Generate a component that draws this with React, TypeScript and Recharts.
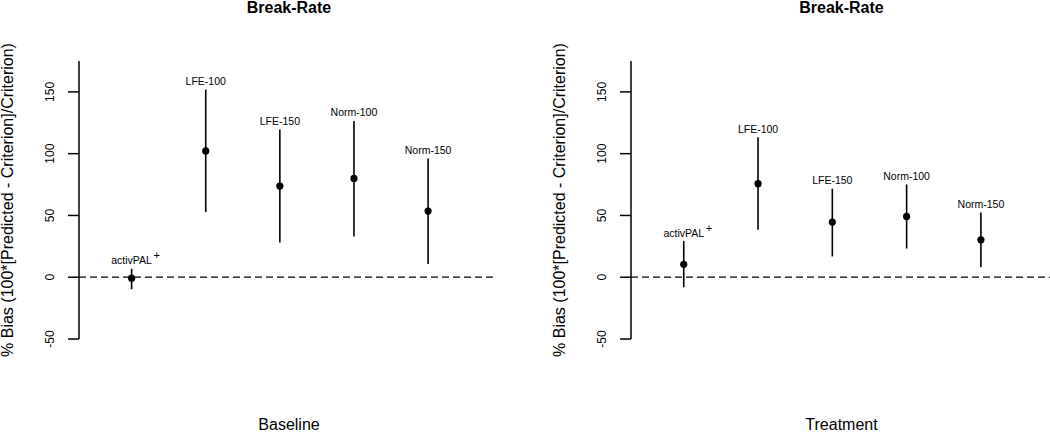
import React from 'react';
import { ComposedChart, Scatter, ErrorBar, XAxis, YAxis, ReferenceLine } from 'recharts';

const methods = ['activPAL', 'LFE-100', 'LFE-150', 'Norm-100', 'Norm-150'];
const positions = [1, 2, 3, 4, 5];

const baselineBias = [-0.8, 102.2, 73.8, 80.0, 53.5];
const baselineLower = [-9.7, 52.7, 28.1, 33.0, 10.8];
const baselineUpper = [6.8, 151.9, 119.5, 126.5, 96.0];

const treatmentBias = [10.5, 75.7, 44.6, 49.2, 30.3];
const treatmentLower = [-8.1, 38.4, 16.8, 23.2, 8.1];
const treatmentUpper = [29.2, 113.2, 71.6, 75.1, 52.4];

const yTicks = [-50, 0, 50, 100, 150];

const FONT = '"Liberation Sans", Arial, Helvetica, sans-serif';
const Y_LABEL = '% Bias (100*[Predicted - Criterion]/Criterion)';

const buildRows = (bias: number[], lower: number[], upper: number[]) =>
  methods.map((name, i) => ({
    name,
    x: positions[i],
    y: bias[i],
    err: [bias[i] - lower[i], upper[i] - bias[i]],
  }));

const buildLabelRows = (upper: number[]) =>
  methods.map((name, i) => ({ name, x: positions[i], y: upper[i] }));

const Dot = (p: any) => <circle cx={p.cx} cy={p.cy} r={3.6} fill="#000" />;

// name written just above the top of each interval
const MethodLabel = (p: any) => {
  const base = p.cy - 4.5;
  const name = p.payload.name;
  return (
    <g>
      <text x={p.cx} y={base} textAnchor="middle" fontSize={10.5} fontFamily={FONT} fill="#000">
        {name}
      </text>
      {name === 'activPAL' && (
        <text x={p.cx + 22} y={base - 5} fontSize={11} fontFamily={FONT} fill="#000">
          +
        </text>
      )}
    </g>
  );
};

const YTick = ({ x, y, payload }: any) => (
  <text
    x={x}
    y={y}
    transform={`rotate(-90, ${x}, ${y})`}
    textAnchor="middle"
    fontSize={12}
    fontFamily={FONT}
    fill="#000"
  >
    {payload.value}
  </text>
);

const renderYLabel = (p: any) => {
  const vb = p.viewBox;
  const x = vb.x + vb.width - 66;
  const y = vb.y + vb.height / 2;
  return (
    <text
      x={x}
      y={y}
      transform={`rotate(-90, ${x}, ${y})`}
      textAnchor="middle"
      fontSize={16}
      fontFamily={FONT}
      fill="#000"
    >
      {Y_LABEL}
    </text>
  );
};

interface PanelProps {
  rows: any[];
  labelRows: any[];
  xTitle: string;
  axisWidth: number;
  rightMargin: number;
}

const Panel: React.FC<PanelProps> = ({ rows, labelRows, xTitle, axisWidth, rightMargin }) => {
  const centre = axisWidth + (525 - axisWidth - rightMargin) / 2 + 1;
  return (
    <div style={{ position: 'relative', width: 525, height: 432 }}>
      <ComposedChart width={525} height={432} margin={{ top: 61, right: rightMargin, bottom: 93, left: 0 }}>
        <XAxis type="number" dataKey="x" domain={[0.29, 5.93]} hide allowDataOverflow />
        <YAxis
          type="number"
          dataKey="y"
          domain={[-50, 175]}
          ticks={yTicks}
          interval={0}
          allowDataOverflow
          width={axisWidth}
          tickSize={11}
          tickMargin={14}
          tick={<YTick />}
          axisLine={{ stroke: '#000', strokeWidth: 1.5 }}
          tickLine={{ stroke: '#000', strokeWidth: 1.5 }}
          label={{ content: renderYLabel }}
        />
        <ReferenceLine y={0} stroke="#000" strokeWidth={1.3} strokeDasharray="7 4" />
        <Scatter data={rows} dataKey="y" shape={Dot} isAnimationActive={false}>
          <ErrorBar dataKey="err" direction="y" width={0} stroke="#000" strokeWidth={1.6} isAnimationActive={false} />
        </Scatter>
        <Scatter data={labelRows} dataKey="y" shape={MethodLabel} isAnimationActive={false} />
      </ComposedChart>
      <div
        style={{
          position: 'absolute',
          top: 0,
          left: centre,
          transform: 'translateX(-50%)',
          fontFamily: FONT,
          fontWeight: 'bold',
          fontSize: 16,
          lineHeight: '16px',
          whiteSpace: 'nowrap',
        }}
      >
        Break-Rate
      </div>
      <div
        style={{
          position: 'absolute',
          top: 417,
          left: centre,
          transform: 'translateX(-50%)',
          fontFamily: FONT,
          fontSize: 16,
          lineHeight: '16px',
          whiteSpace: 'nowrap',
        }}
      >
        {xTitle}
      </div>
    </div>
  );
};

export default function App() {
  return (
    <div style={{ position: 'absolute', left: 0, top: 0, width: 1050, height: 432, display: 'flex', background: '#fff' }}>
      <Panel
        rows={buildRows(baselineBias, baselineLower, baselineUpper)}
        labelRows={buildLabelRows(baselineUpper)}
        xTitle="Baseline"
        axisWidth={79}
        rightMargin={28}
      />
      <Panel
        rows={buildRows(treatmentBias, treatmentLower, treatmentUpper)}
        labelRows={buildLabelRows(treatmentUpper)}
        xTitle="Treatment"
        axisWidth={106}
        rightMargin={0}
      />
    </div>
  );
}
